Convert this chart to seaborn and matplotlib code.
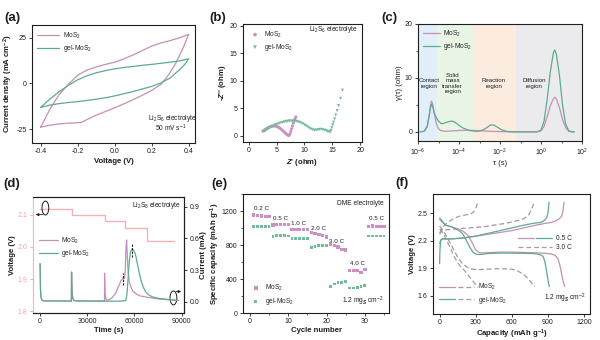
import matplotlib
matplotlib.use("Agg")
import matplotlib.pyplot as plt
import seaborn as sns
from matplotlib.ticker import MultipleLocator, FixedLocator, FormatStrFormatter, LogLocator, NullFormatter
from matplotlib.lines import Line2D
from matplotlib.legend_handler import HandlerTuple
from matplotlib.patches import Ellipse

# ---------------- (a) cyclic voltammetry, closed loops ----------------
cv_volt_mos2 = [-0.40, -0.35, -0.30, -0.25, -0.20, -0.15, -0.10, -0.05, 0.00, 0.05, 0.10, 0.15,
                0.20, 0.25, 0.30, 0.35, 0.40, 0.37, 0.33, 0.29, 0.25, 0.20, 0.15, 0.10, 0.05,
                0.00, -0.05, -0.10, -0.15, -0.18, -0.22, -0.26, -0.30, -0.35, -0.40]
cv_curr_mos2 = [-23.8, -14.0, -6.0, -0.5, 4.5, 7.3, 9.0, 10.4, 11.6, 13.4, 15.6, 18.0,
                20.4, 22.1, 23.4, 24.9, 26.8, 19.5, 11.0, 4.5, -0.5, -3.8, -6.4, -8.8, -11.1,
                -13.3, -15.3, -17.3, -19.7, -21.3, -21.6, -21.7, -22.1, -22.8, -23.8]
cv_volt_gel = [-0.40, -0.35, -0.30, -0.25, -0.20, -0.15, -0.10, -0.05, 0.00, 0.05, 0.10, 0.15,
               0.20, 0.25, 0.30, 0.35, 0.40, 0.38, 0.35, 0.30, 0.25, 0.20, 0.15, 0.10, 0.05,
               0.00, -0.05, -0.10, -0.15, -0.20, -0.25, -0.30, -0.35, -0.40]
cv_curr_gel = [-13.1, -8.5, -4.5, -1.0, 2.0, 4.2, 5.8, 7.0, 8.0, 8.7, 9.3, 9.9,
               10.4, 11.0, 11.6, 12.3, 13.4, 10.5, 7.5, 3.0, 0.3, -1.6, -3.0, -4.4, -5.6,
               -6.8, -7.8, -8.6, -9.3, -9.9, -10.4, -11.0, -11.8, -13.1]

# ---------------- (b) Nyquist plots ----------------
eis_re_mos2 = [2.55, 2.75, 2.95, 3.15, 3.35, 3.55, 3.75, 3.95, 4.2, 4.45, 4.7, 4.95, 5.2, 5.45,
               5.7, 5.95, 6.2, 6.45, 6.7, 6.9, 7.1, 7.25, 7.4, 7.55, 7.7, 7.85, 8.0, 8.15, 8.3, 8.45]
eis_im_mos2 = [0.85, 1.0, 1.15, 1.3, 1.42, 1.52, 1.62, 1.7, 1.77, 1.8, 1.8, 1.75, 1.65, 1.5,
               1.32, 1.1, 0.88, 0.65, 0.42, 0.25, 0.12, 0.1, 0.35, 0.8, 1.3, 1.8, 2.3, 2.75, 3.1, 3.45]
eis_re_gel = [2.85, 3.05, 3.25, 3.5, 3.75, 4.0, 4.3, 4.6, 4.9, 5.2, 5.5, 5.8, 6.1, 6.4, 6.7,
              7.0, 7.3, 7.6, 7.9, 8.2, 8.5, 8.8, 9.1, 9.4, 9.7, 10.0, 10.3, 10.6, 10.9, 11.2,
              11.5, 11.8, 12.1, 12.4, 12.7, 13.0, 13.3, 13.6, 13.9, 14.15, 14.4, 14.6, 14.75,
              14.9, 15.05, 15.2, 15.4, 15.6, 15.85, 16.1, 16.45, 16.8]
eis_im_gel = [0.85, 1.0, 1.15, 1.3, 1.45, 1.6, 1.75, 1.9, 2.05, 2.17, 2.28, 2.38, 2.47, 2.55,
              2.62, 2.67, 2.7, 2.72, 2.72, 2.7, 2.65, 2.58, 2.48, 2.35, 2.2, 2.02, 1.83, 1.63,
              1.42, 1.25, 1.12, 1.05, 1.05, 1.12, 1.18, 1.2, 1.15, 1.05, 0.95, 0.85, 0.75, 0.72,
              1.0, 1.5, 2.0, 2.5, 3.1, 3.8, 4.6, 5.5, 6.8, 8.3]

# ---------------- (c) distribution of relaxation times ----------------
drt_logtau_mos2 = [-5.9, -5.7, -5.55, -5.45, -5.4, -5.34, -5.28, -5.2, -5.1, -5.0, -4.9, -4.7,
                   -4.4, -4.0, -3.5, -3.0, -2.5, -2.0, -1.5, -1.0, -0.5, -0.2, 0.0, 0.15, 0.3,
                   0.45, 0.6, 0.67, 0.75, 0.9, 1.05, 1.2, 1.35, 1.5, 1.62]
drt_gamma_mos2 = [0, 0.1, 1.0, 3.2, 4.8, 5.7, 5.1, 3.3, 1.5, 0.6, 0.25, 0.1,
                  0.15, 0.25, 0.3, 0.2, 0.1, 0.05, 0, 0, 0, 0, 0.2, 1.0, 2.8,
                  4.8, 6.1, 6.4, 6.1, 4.5, 2.3, 0.8, 0.15, 0, 0]
drt_logtau_gel = [-5.9, -5.7, -5.55, -5.45, -5.4, -5.34, -5.28, -5.2, -5.1, -5.0, -4.9, -4.8,
                  -4.65, -4.5, -4.35, -4.2, -4.0, -3.8, -3.5, -3.2, -3.0, -2.8, -2.6, -2.45,
                  -2.3, -2.1, -1.9, -1.7, -1.4, -1.0, -0.5, -0.2, 0.0, 0.15, 0.3, 0.45, 0.6,
                  0.67, 0.75, 0.9, 1.05, 1.2, 1.35, 1.5, 1.62]
drt_gamma_gel = [0, 0.1, 1.0, 3.0, 4.3, 5.1, 4.6, 3.4, 2.6, 2.0, 1.6, 1.5,
                 1.7, 1.9, 2.0, 1.8, 1.2, 0.7, 0.25, 0.1, 0.15, 0.4, 0.9, 1.3,
                 1.25, 0.8, 0.35, 0.1, 0, 0, 0, 0, 0.3, 2.0, 6.0, 11.0, 14.6,
                 15.2, 14.4, 10.5, 5.0, 1.5, 0.2, 0, 0]
region_edges = [1e-6, 8e-6, 4.7e-4, 6.3e-2, 1e2]
region_colors = ["#e2eef9", "#e9f5e5", "#fcece0", "#ebebed"]
region_names = ["Contact\nregion", "Solid\nmass\ntransfer\nregion", "Reaction\nregion", "Diffusion\nregion"]
region_text_x = [3.4e-6, 4.9e-5, 5.0e-3, 0.45]

# ---------------- (d) potentiostatic nucleation ----------------
step_time = [0, 20000, 41000, 54200, 67700, 85000]
step_volt = [2.12, 2.10, 2.08, 2.06, 2.02, 2.02]
cur_time_gel = [0, 250, 600, 1200, 2500, 19900, 20000, 20300, 20800, 21500, 23000, 41000,
                50000, 54500, 55300, 55800, 56700, 57500, 58500, 59300, 60100, 60900, 62000,
                63000, 64000, 65100, 66200, 67300, 69000, 71500, 76000, 82000, 88000]
cur_val_gel = [0.36, 0.12, 0.04, 0.015, 0.008, 0.006, 0.28, 0.09, 0.03, 0.012, 0.007, 0.005,
               0.005, 0.01, 0.08, 0.19, 0.38, 0.47, 0.5, 0.49, 0.47, 0.43, 0.35,
               0.28, 0.21, 0.16, 0.12, 0.09, 0.065, 0.045, 0.03, 0.02, 0.012]
cur_time_mos2 = [0, 250, 600, 1200, 2500, 19900, 20000, 20300, 20800, 21500, 23000, 40950,
                 41000, 41300, 41800, 42500, 44000, 46000, 48000, 50000, 51500, 52800, 53700,
                 54200, 54600, 55000, 55400, 55900, 56700, 57700, 59000, 61000, 63500, 67000,
                 71000, 76000, 82000, 88000]
cur_val_mos2 = [0.36, 0.12, 0.04, 0.015, 0.008, 0.006, 0.28, 0.09, 0.03, 0.012, 0.008, 0.007,
                0.27, 0.08, 0.03, 0.015, 0.02, 0.04, 0.08, 0.15, 0.2, 0.225, 0.22,
                0.3, 0.5, 0.585, 0.45, 0.3, 0.19, 0.14, 0.1, 0.075, 0.055, 0.045,
                0.035, 0.025, 0.018, 0.012]
peak_mark_t = [52600, 58600]
peak_mark_lo = [0.16, 0.42]
peak_mark_hi = [0.27, 0.56]

# ---------------- (e) rate capability ----------------
cycle_no = list(range(1, 36))
cap_mos2 = [1155, 1145, 1140, 1138, 1138, 1035, 1040, 1040, 1040, 1038, 985, 980, 980, 980, 985,
            950, 935, 925, 915, 895, 805, 795, 775, 750, 740, 500, 500, 500, 475, 510,
            1020, 1025, 1020, 1020, 1020]
cap_gel = [1020, 1018, 1015, 1015, 1015, 900, 908, 908, 908, 905, 875, 875, 875, 875, 875,
           775, 785, 790, 790, 793, 310, 340, 355, 360, 375, 295, 295, 300, 310, 320,
           905, 905, 905, 905, 905]
rate_names = ["0.2 C", "0.5 C", "1.0 C", "2.0 C", "3.0 C", "4.0 C", "0.5 C"]
rate_label_x = [3.0, 7.9, 12.7, 17.9, 22.7, 28.0, 33.1]
rate_label_y = [1225, 1110, 1050, 1000, 845, 585, 1110]

# ---------------- (f) galvanostatic profiles ----------------
dis_cap_mos2_05 = [0, 50, 100, 150, 200, 240, 270, 300, 330, 360, 400, 500, 600, 700, 800, 880,
                   930, 960, 985, 1000, 1015, 1030, 1040]
dis_v_mos2_05 = [2.43, 2.37, 2.35, 2.33, 2.30, 2.25, 2.18, 2.10, 2.07, 2.065, 2.07, 2.075, 2.075,
                 2.072, 2.068, 2.063, 2.055, 2.04, 2.0, 1.93, 1.83, 1.74, 1.70]
dis_cap_gel_05 = [0, 50, 100, 150, 190, 220, 250, 280, 310, 340, 400, 500, 600, 700, 780, 830,
                  860, 875, 885, 895, 905, 912]
dis_v_gel_05 = [2.45, 2.37, 2.35, 2.32, 2.28, 2.21, 2.13, 2.07, 2.05, 2.05, 2.06, 2.065, 2.065,
                2.062, 2.06, 2.05, 2.03, 1.97, 1.9, 1.82, 1.74, 1.70]
chg_cap_mos2_05 = [0, 10, 30, 100, 200, 300, 400, 500, 600, 700, 800, 880, 930, 970, 995, 1015,
                   1025, 1030, 1035]
chg_v_mos2_05 = [2.17, 2.21, 2.22, 2.22, 2.23, 2.25, 2.27, 2.29, 2.31, 2.34, 2.37, 2.39, 2.40,
                 2.42, 2.44, 2.47, 2.52, 2.58, 2.62]
chg_cap_gel_05 = [0, 3, 8, 20, 60, 100, 200, 300, 400, 500, 600, 700, 780, 840, 870, 890, 900,
                  905, 910]
chg_v_gel_05 = [1.95, 2.10, 2.20, 2.22, 2.22, 2.22, 2.23, 2.25, 2.28, 2.31, 2.34, 2.37, 2.39,
                2.40, 2.42, 2.45, 2.50, 2.56, 2.62]
dis_cap_mos2_30 = [0, 30, 70, 110, 150, 190, 230, 270, 320, 400, 500, 600, 650, 700, 740, 770, 790]
dis_v_mos2_30 = [2.36, 2.31, 2.22, 2.12, 2.02, 1.95, 1.91, 1.89, 1.885, 1.89, 1.895, 1.89, 1.87,
                 1.83, 1.78, 1.73, 1.70]
dis_cap_gel_30 = [0, 30, 60, 90, 120, 150, 180, 210, 240, 270, 300, 320]
dis_v_gel_30 = [2.33, 2.28, 2.20, 2.12, 2.03, 1.96, 1.91, 1.87, 1.82, 1.77, 1.72, 1.69]
chg_cap_mos2_30 = [0, 20, 60, 150, 250, 350, 450, 550, 650, 700, 740, 760, 775, 785]
chg_v_mos2_30 = [2.27, 2.31, 2.32, 2.33, 2.34, 2.35, 2.37, 2.39, 2.42, 2.44, 2.48, 2.53, 2.58, 2.62]
chg_cap_gel_30 = [0, 20, 50, 90, 130, 170, 210, 250, 280, 300, 310, 318]
chg_v_gel_30 = [2.28, 2.34, 2.38, 2.42, 2.45, 2.47, 2.48, 2.49, 2.51, 2.55, 2.59, 2.62]

# ---------------- styling ----------------
C_MOS2 = "#c48fb8"
C_GEL = "#5eab8c"
C_MOS2_PT = "#cf8fc4"
C_GEL_PT = "#74bb9b"
C_STEP = "#f3b3b5"
C_MOS2_FAST = "#a596a3"
C_GEL_FAST = "#90a89c"
INK = "#1e1e1e"

sns.set_theme(style="ticks")
plt.rcParams.update({
    "font.family": ["Liberation Sans", "DejaVu Sans"],
    "mathtext.fontset": "custom",
    "mathtext.rm": "Liberation Sans",
    "mathtext.it": "Liberation Sans:italic:bold",
    "mathtext.bf": "Liberation Sans:bold",
    "axes.unicode_minus": False,
    "legend.frameon": False,
})

TICK = 5.0
LAB = 5.6
SMALL = 4.8

fig = plt.figure(figsize=(6.0, 3.4), dpi=100)
fig.patch.set_facecolor("white")


def add_ax(l, t, r, b):
    return fig.add_axes([l / 600, 1 - b / 340, (r - l) / 600, (b - t) / 340])


def finish(ax):
    ax.tick_params(which="major", direction="out", length=2.4, width=0.6, labelsize=TICK,
                   pad=1.5, color=INK, labelcolor=INK)
    ax.tick_params(which="minor", direction="out", length=1.4, width=0.5, color=INK)
    for s in ax.spines.values():
        s.set_visible(True)
        s.set_linewidth(0.8)
        s.set_color(INK)


def xlab(ax, text, bold=True, pad=1.5):
    ax.set_xlabel(text, fontsize=LAB, fontweight="bold" if bold else "normal", labelpad=pad, color=INK)


def ylab(ax, text, bold=True, pad=1.5):
    ax.set_ylabel(text, fontsize=LAB, fontweight="bold" if bold else "normal", labelpad=pad, color=INK)


def panel(x, y, tag):
    fig.text(x / 600, 1 - y / 340, tag, fontsize=9.5, fontweight="bold", ha="center", va="center", color=INK)


# ---- (a)
ax = add_ax(32, 25, 195, 143)
sns.lineplot(x=cv_volt_mos2, y=cv_curr_mos2, sort=False, estimator=None, color=C_MOS2, lw=0.9,
             label="MoS$_2$", ax=ax)
sns.lineplot(x=cv_volt_gel, y=cv_curr_gel, sort=False, estimator=None, color=C_GEL, lw=0.9,
             label="gel-MoS$_2$", ax=ax)
ax.set_xlim(-0.447, 0.434)
ax.set_ylim(-32.5, 31.9)
ax.xaxis.set_major_locator(FixedLocator([-0.4, -0.2, 0.0, 0.2, 0.4]))
ax.xaxis.set_major_formatter(FormatStrFormatter("%.1f"))
ax.yaxis.set_major_locator(FixedLocator([-25, 0, 25]))
finish(ax)
xlab(ax, "Voltage (V)")
ylab(ax, "Current density (mA cm$^{\\mathbf{-2}}$)", pad=0.8)
ax.legend(loc="upper left", fontsize=SMALL, handlelength=3.2, handletextpad=0.6,
          labelspacing=0.35, borderaxespad=0.4)
ax.text(0.865, 0.21, "Li$_2$S$_6$ electrolyte", transform=ax.transAxes, ha="center", va="center",
        fontsize=SMALL, color=INK)
ax.text(0.85, 0.125, "50 mV s$^{-1}$", transform=ax.transAxes, ha="center", va="center",
        fontsize=SMALL, color=INK)
panel(12, 18, "(a)")

# ---- (b)
ax = add_ax(243, 24, 362, 142)
sns.scatterplot(x=eis_re_mos2, y=eis_im_mos2, marker="o", s=5, color=C_MOS2_PT, edgecolor="none",
                label="MoS$_2$", ax=ax)
sns.scatterplot(x=eis_re_gel, y=eis_im_gel, marker="v", s=5, color=C_GEL_PT, edgecolor="none",
                label="gel-MoS$_2$", ax=ax)
ax.set_xlim(-1.0, 20.3)
ax.set_ylim(-1.1, 20.3)
ax.xaxis.set_major_locator(MultipleLocator(5))
ax.yaxis.set_major_locator(MultipleLocator(5))
finish(ax)
xlab(ax, "$\\mathit{Z}$' (ohm)")
ylab(ax, "-$\\mathit{Z}$'' (ohm)")
ax.legend(loc="upper left", fontsize=SMALL, handletextpad=0.3, labelspacing=0.35,
          borderaxespad=0.4, markerscale=1.2)
ax.text(0.97, 0.95, "Li$_2$S$_6$ electrolyte", transform=ax.transAxes, ha="right", va="center",
        fontsize=SMALL, color=INK)
panel(218, 18, "(b)")

# ---- (c)
ax = add_ax(418, 24, 582, 141)
for lo, hi, col in zip(region_edges[:-1], region_edges[1:], region_colors):
    ax.axvspan(lo, hi, color=col, lw=0, zorder=0)
sns.lineplot(x=[10 ** v for v in drt_logtau_mos2], y=drt_gamma_mos2, sort=False, estimator=None,
             color=C_MOS2, lw=0.9, label="MoS$_2$", ax=ax)
sns.lineplot(x=[10 ** v for v in drt_logtau_gel], y=drt_gamma_gel, sort=False, estimator=None,
             color=C_GEL, lw=0.9, label="gel-MoS$_2$", ax=ax)
ax.set_xscale("log")
ax.set_xlim(1e-6, 1e2)
ax.set_ylim(-1.7, 20)
ax.xaxis.set_major_locator(FixedLocator([1e-6, 1e-4, 1e-2, 1e0, 1e2]))
ax.xaxis.set_minor_locator(LogLocator(base=10, subs=(1.0,), numticks=20))
ax.xaxis.set_minor_formatter(NullFormatter())
ax.yaxis.set_major_locator(MultipleLocator(10))
ax.yaxis.set_minor_locator(MultipleLocator(5))
finish(ax)
xlab(ax, "τ (s)", bold=False)
ylab(ax, "γ(τ) (ohm)", bold=False)
ax.legend(loc="upper left", fontsize=SMALL, handlelength=2.6, handletextpad=0.4,
          labelspacing=0.3, borderaxespad=0.3)
for name, xpos in zip(region_names, region_text_x):
    ax.text(xpos, 9.0, name, ha="center", va="center", fontsize=4.4, color=INK, linespacing=1.1)
panel(389, 18, "(c)")

# ---- (d)
axv = add_ax(33, 197, 184, 313)
sns.lineplot(x=step_time, y=step_volt, estimator=None, drawstyle="steps-post", color=C_STEP,
             lw=1.0, ax=axv)
axv.set_xlim(-4500, 91500)
axv.set_ylim(1.794, 2.156)
axv.xaxis.set_major_locator(FixedLocator([0, 30000, 60000, 90000]))
axv.yaxis.set_major_locator(FixedLocator([1.8, 1.9, 2.0, 2.1]))
finish(axv)
axv.tick_params(axis="y", labelcolor="#eea3a9", color="#eea3a9")
xlab(axv, "Time (s)")
ylab(axv, "Voltage (V)")

axi = axv.twinx()
sns.lineplot(x=cur_time_mos2, y=cur_val_mos2, sort=False, estimator=None, color=C_MOS2, lw=0.9,
             label="MoS$_2$", ax=axi)
sns.lineplot(x=cur_time_gel, y=cur_val_gel, sort=False, estimator=None, color=C_GEL, lw=0.9,
             label="gel-MoS$_2$", ax=axi)
axi.vlines(peak_mark_t, peak_mark_lo, peak_mark_hi, colors=INK, linestyles=(0, (2.0, 1.2)), lw=0.8)
axi.set_xlim(-4500, 91500)
axi.set_ylim(-0.107, 0.992)
axi.yaxis.set_major_locator(FixedLocator([0.0, 0.3, 0.6, 0.9]))
axi.yaxis.set_major_formatter(FormatStrFormatter("%.1f"))
finish(axi)
axi.set_ylabel("Current (mA)", fontsize=LAB, fontweight="bold", labelpad=0.5, color=INK)
for a in (axv, axi):
    a.spines["left"].set_color("#f2b9bc")
axi.legend(loc="upper left", bbox_to_anchor=(0.0, 0.72), fontsize=SMALL, handlelength=2.8,
           handletextpad=0.5, labelspacing=0.35)
axi.text(0.98, 0.93, "Li$_2$S$_8$ electrolyte", transform=axi.transAxes, ha="right", va="center",
         fontsize=SMALL, color=INK)
# rotation marks pointing to the relevant axes
axi.add_patch(Ellipse((0.082, 0.905), 0.045, 0.12, transform=axi.transAxes, fill=False,
                      lw=0.7, ec=INK))
axi.annotate("", xy=(0.0, 0.848), xytext=(0.085, 0.848), xycoords="axes fraction",
             arrowprops=dict(arrowstyle="-|>", lw=0.6, color=INK, mutation_scale=4))
axi.add_patch(Ellipse((0.93, 0.13), 0.045, 0.12, transform=axi.transAxes, fill=False,
                      lw=0.7, ec=INK))
axi.annotate("", xy=(1.0, 0.185), xytext=(0.93, 0.185), xycoords="axes fraction",
             arrowprops=dict(arrowstyle="-|>", lw=0.6, color=INK, mutation_scale=4))
panel(12, 184, "(d)")

# ---- (e)
ax = add_ax(243, 194, 389, 313)
sns.scatterplot(x=cycle_no, y=cap_mos2, marker="s", s=6, color=C_MOS2_PT, edgecolor="none",
                label="MoS$_2$", ax=ax)
sns.scatterplot(x=cycle_no, y=cap_gel, marker="s", s=4, color=C_GEL_PT, edgecolor="none",
                label="gel-MoS$_2$", ax=ax)
ax.set_xlim(-1.8, 36.3)
ax.set_ylim(0, 1400)
ax.xaxis.set_major_locator(MultipleLocator(10))
ax.xaxis.set_minor_locator(MultipleLocator(5))
ax.yaxis.set_major_locator(FixedLocator([0, 400, 800, 1200]))
ax.yaxis.set_minor_locator(MultipleLocator(200))
finish(ax)
xlab(ax, "Cycle number")
ylab(ax, "Specific capacity (mAh g$^{\\mathbf{-1}}$)", pad=0.3)
for name, xpos, ypos in zip(rate_names, rate_label_x, rate_label_y):
    ax.text(xpos, ypos, name, ha="center", va="center", fontsize=4.5, color=INK)
ax.legend(loc="lower left", fontsize=SMALL, handletextpad=0.4, labelspacing=0.4,
          borderaxespad=0.5, markerscale=1.2)
ax.text(0.96, 0.92, "DME electrolyte", transform=ax.transAxes, ha="right", va="center",
        fontsize=SMALL, color=INK)
ax.text(0.96, 0.095, "1.2 mg$_S$ cm$^{-2}$", transform=ax.transAxes, ha="right", va="center",
        fontsize=SMALL, color=INK)
panel(219, 184, "(e)")

# ---- (f)
ax = add_ax(433, 194, 590, 314)
fast_dash = (0, (4.0, 2.2))
for cap, volt, col, ls in [
    (dis_cap_mos2_30, dis_v_mos2_30, C_MOS2_FAST, fast_dash),
    (chg_cap_mos2_30, chg_v_mos2_30, C_MOS2_FAST, fast_dash),
    (dis_cap_gel_30, dis_v_gel_30, C_GEL_FAST, fast_dash),
    (chg_cap_gel_30, chg_v_gel_30, C_GEL_FAST, fast_dash),
    (dis_cap_mos2_05, dis_v_mos2_05, C_MOS2, "-"),
    (chg_cap_mos2_05, chg_v_mos2_05, C_MOS2, "-"),
    (dis_cap_gel_05, dis_v_gel_05, C_GEL, "-"),
    (chg_cap_gel_05, chg_v_gel_05, C_GEL, "-"),
]:
    sns.lineplot(x=cap, y=volt, sort=False, estimator=None, color=col, lw=0.9, linestyle=ls,
                 ax=ax, legend=False)
ax.set_xlim(-55, 1250)
ax.set_ylim(1.40, 2.71)
ax.xaxis.set_major_locator(FixedLocator([0, 300, 600, 900, 1200]))
ax.yaxis.set_major_locator(FixedLocator([1.6, 1.9, 2.2, 2.5]))
finish(ax)
xlab(ax, "Capacity (mAh g$^{\\mathbf{-1}}$)", pad=0.6)
ylab(ax, "Voltage (V)")

sample_handles = [
    (Line2D([], [], color=C_MOS2, lw=0.9), Line2D([], [], color=C_MOS2_FAST, lw=0.9, ls=fast_dash)),
    (Line2D([], [], color=C_GEL, lw=0.9), Line2D([], [], color=C_GEL_FAST, lw=0.9, ls=fast_dash)),
]
leg1 = ax.legend(sample_handles, ["MoS$_2$", "gel-MoS$_2$"], loc="lower left",
                 bbox_to_anchor=(0.0, 0.02), fontsize=SMALL, handlelength=5.2, handletextpad=0.6,
                 labelspacing=0.35, handler_map={tuple: HandlerTuple(ndivide=None, pad=0.4)})
ax.add_artist(leg1)
rate_handles = [
    (Line2D([], [], color=C_MOS2, lw=0.9), Line2D([], [], color=C_GEL, lw=0.9)),
    (Line2D([], [], color="#a0a0a0", lw=0.9, ls=fast_dash),),
]
ax.legend(rate_handles, ["0.5 C", "3.0 C"], loc="center left", bbox_to_anchor=(0.5, 0.59),
          fontsize=SMALL, handlelength=5.2, handletextpad=0.6, labelspacing=0.35,
          handler_map={tuple: HandlerTuple(ndivide=None, pad=0.4)})
ax.text(0.97, 0.13, "1.2 mg$_S$ cm$^{-2}$", transform=ax.transAxes, ha="right", va="center",
        fontsize=SMALL, color=INK)
panel(402, 183, "(f)")

fig.savefig("out.png", dpi=100, facecolor="white")
